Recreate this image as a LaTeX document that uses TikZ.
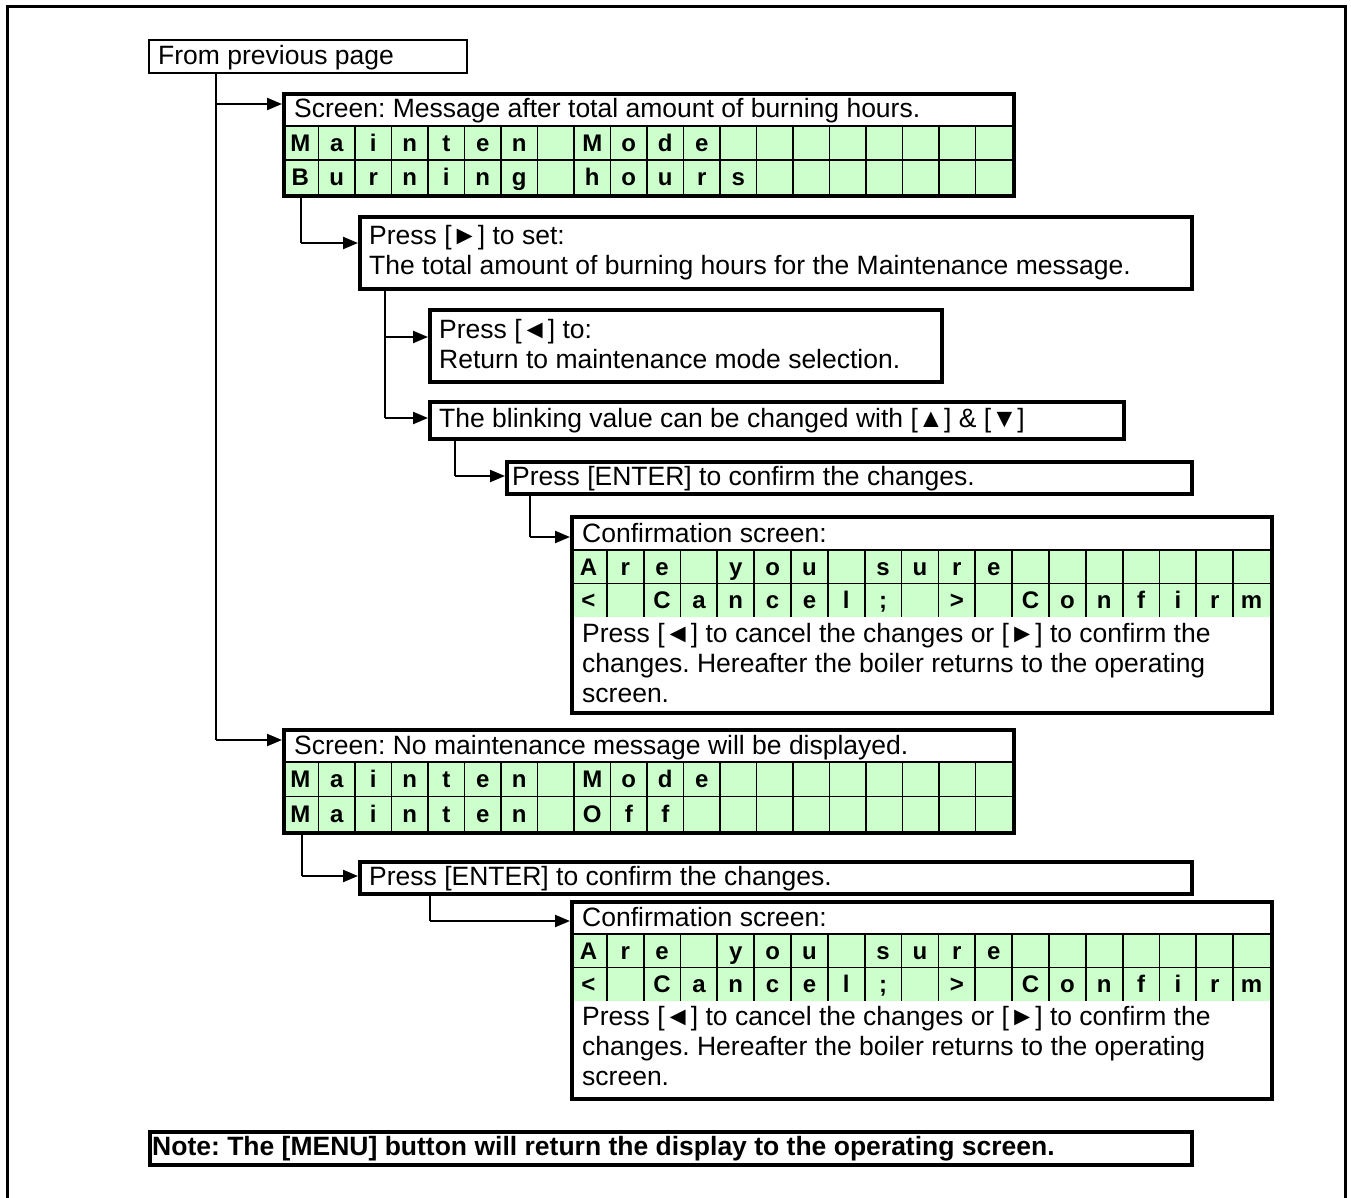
\documentclass[tikz,border=0pt]{standalone}
\usepackage{fontspec}
\setmainfont{Liberation Sans}
\usetikzlibrary{arrows.meta}
\definecolor{lcd}{HTML}{CCFFCC}
\tikzset{
  box/.style={draw, line width=3.6pt, inner sep=0pt, anchor=north west},
  thinbox/.style={draw, line width=1.8pt, inner sep=0pt, anchor=north west},
  txt/.style={anchor=base west, inner sep=0pt, font=\frenchspacing\fontsize{26.5}{30}\selectfont},
  notetxt/.style={anchor=base west, inner sep=0pt, font=\frenchspacing\bfseries\fontsize{26.5}{30}\selectfont},
  cell/.style={anchor=base, inner sep=0pt, font=\bfseries\fontsize{24}{24}\selectfont},
  grid/.style={line width=1.8pt},
  wire/.style={line width=2.2pt},
  conn/.style={line width=2.2pt, -{Triangle[length=15pt,width=12pt]}},
}
\newcommand\lcdpanel[8]{%
  \pgfmathsetmacro\lcw{(#3-#1)/#4}%
  \pgfmathtruncatemacro\lcn{#4-1}%
  \fill[lcd] (#1,#2) rectangle (#3,{#2+2*#5});
  \draw[grid] (#1,#2) -- (#3,#2) (#1,{#2+#5}) -- (#3,{#2+#5});
  \foreach \k in {1,...,\lcn} \draw[grid] ({#1+\k*\lcw},#2) -- ({#1+\k*\lcw},{#2+2*#5});
  \foreach \c [count=\k] in {#6} \node[cell] (#8a\k) at ({#1+(\k-0.5)*\lcw},{#2+0.5*#5+8.6}) {\c};
  \foreach \c [count=\k] in {#7} \node[cell] (#8b\k) at ({#1+(\k-0.5)*\lcw},{#2+1.5*#5+8.6}) {\c};
}
\begin{document}
\begin{tikzpicture}[x=1pt,y=-1pt]
\useasboundingbox (0,0) rectangle (1351,1198);
% outer frame
\draw[line width=3pt] (7,1198) -- (7,7) -- (1345,7) -- (1345,1198);

% From previous page
\node[thinbox, minimum width=318pt, minimum height=33pt] (from) at (148,39) {};
\node[txt] (fromt) at (158,64.5) {From previous page};

% Box 1
\lcdpanel{282}{126}{1012}{20}{34}{M,a,i,n,t,e,n,{},M,o,d,e}{B,u,r,n,i,n,g,{},h,o,u,r,s}{p}
\node[box, minimum width=730pt, minimum height=102pt] (b1) at (282,92) {};
\node[txt] (b1t) at (294,118) {Screen: Message after total amount of burning hours.};

% Box 2
\node[box, minimum width=832pt, minimum height=72pt] (b2) at (358,215) {};
\node[txt] (b2t1) at (369,244) {Press [►] to set:};
\node[txt] (b2t2) at (369,274) {The total amount of burning hours for the Maintenance message.};

% Box 3
\node[box, minimum width=512pt, minimum height=72pt] (b3) at (428,308) {};
\node[txt] (b3t1) at (439,338) {Press [◄] to:};
\node[txt] (b3t2) at (439,368) {Return to maintenance mode selection.};

% Box 4
\node[box, minimum width=694pt, minimum height=37pt] (b4) at (428,400) {};
\node[txt] (b4t) at (439,427.5) {The blinking value can be changed with [▲] \& [▼]};

% Box 5
\node[box, minimum width=685pt, minimum height=32pt] (b5) at (505,460) {};
\node[txt] (b5t) at (512,485) {Press [ENTER] to confirm the changes.};

% Confirmation 1
\lcdpanel{570}{550}{1270}{19}{33.5}{A,r,e,{},y,o,u,{},s,u,r,e}{<,{},C,a,n,c,e,l,;,{},>,{},C,o,n,f,i,r,m}{q}
\node[box, minimum width=700pt, minimum height=196pt] (c1) at (570,515) {};
\node[txt] (c1t) at (582,542) {Confirmation screen:};
\node[txt] (c1l1) at (582,642) {Press [◄] to cancel the changes or [►] to confirm the};
\node[txt] (c1l2) at (582,672) {changes. Hereafter the boiler returns to the operating};
\node[txt] (c1l3) at (582,702) {screen.};

% Box 6
\lcdpanel{282}{762}{1012}{20}{34.5}{M,a,i,n,t,e,n,{},M,o,d,e}{M,a,i,n,t,e,n,{},O,f,f}{r}
\node[box, minimum width=730pt, minimum height=103pt] (b6) at (282,728) {};
\node[txt] (b6t) at (294,754) {Screen: No maintenance message will be displayed.};

% Box 7
\node[box, minimum width=832pt, minimum height=32pt] (b7) at (358,860) {};
\node[txt] (b7t) at (369,885) {Press [ENTER] to confirm the changes.};

% Confirmation 2
\lcdpanel{570}{934}{1270}{19}{33.5}{A,r,e,{},y,o,u,{},s,u,r,e}{<,{},C,a,n,c,e,l,;,{},>,{},C,o,n,f,i,r,m}{s}
\node[box, minimum width=700pt, minimum height=197pt] (c2) at (570,900) {};
\node[txt] (c2t) at (582,926) {Confirmation screen:};
\node[txt] (c2l1) at (582,1025) {Press [◄] to cancel the changes or [►] to confirm the};
\node[txt] (c2l2) at (582,1055) {changes. Hereafter the boiler returns to the operating};
\node[txt] (c2l3) at (582,1085) {screen.};

% Note
\node[box, minimum width=1042pt, minimum height=33pt] (note) at (148,1130) {};
\node[notetxt] (notet) at (152,1155) {Note: The [MENU] button will return the display to the operating screen.};

% connectors
\coordinate (ja) at (216,104);
\coordinate (jb) at (216,740);
\draw[wire] (from.south -| ja) -- (jb);
\draw[conn] (ja) -- (b1.west |- ja);
\draw[conn] (jb) -- (b6.west |- jb);

\coordinate (jc) at (301,243);
\draw[wire] (b1.south -| jc) -- (jc);
\draw[conn] (jc) -- (b2.west |- jc);

\coordinate (jd) at (385,337);
\coordinate (je) at (385,418);
\draw[wire] (b2.south -| jd) -- (je);
\draw[conn] (jd) -- (b3.west |- jd);
\draw[conn] (je) -- (b4.west |- je);

\coordinate (jf) at (455,476);
\draw[wire] (b4.south -| jf) -- (jf);
\draw[conn] (jf) -- (b5.west |- jf);

\coordinate (jg) at (530,537);
\draw[wire] (b5.south -| jg) -- (jg);
\draw[conn] (jg) -- (c1.west |- jg);

\coordinate (jh) at (302,876);
\draw[wire] (b6.south -| jh) -- (jh);
\draw[conn] (jh) -- (b7.west |- jh);

\coordinate (ji) at (430,921);
\draw[wire] (b7.south -| ji) -- (ji);
\draw[conn] (ji) -- (c2.west |- ji);
\end{tikzpicture}
\end{document}
